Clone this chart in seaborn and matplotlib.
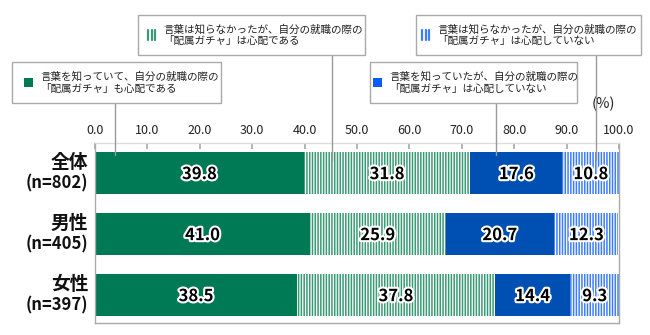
import matplotlib
matplotlib.use("Agg")
import matplotlib.pyplot as plt
import matplotlib.patheffects as pe
from matplotlib.patches import Rectangle
from matplotlib.lines import Line2D
import numpy as np
import pandas as pd
import seaborn as sns

categories = ["全体", "男性", "女性"]
sample_sizes = ["(n=802)", "(n=405)", "(n=397)"]
series_names = [
    "言葉を知っていて、自分の就職の際の\n「配属ガチャ」も心配である",
    "言葉は知らなかったが、自分の就職の際の\n「配属ガチャ」は心配である",
    "言葉を知っていたが、自分の就職の際の\n「配属ガチャ」は心配していない",
    "言葉は知らなかったが、自分の就職の際の\n「配属ガチャ」は心配していない",
]
know_worry = [39.8, 41.0, 38.5]
notknow_worry = [31.8, 25.9, 37.8]
know_noworry = [17.6, 20.7, 14.4]
notknow_noworry = [10.8, 12.3, 9.3]
x_ticks = [0, 10, 20, 30, 40, 50, 60, 70, 80, 90, 100]

sns.set_theme(style="white")
plt.rcParams["font.family"] = ["Noto Sans CJK JP", "DejaVu Sans"]
plt.rcParams["hatch.linewidth"] = 1.1

DARK_GREEN = "#007a55"
LIGHT_GREEN = "#3a9a75"
DARK_BLUE = "#0050b4"
LIGHT_BLUE = "#3f7dff"

series = [know_worry, notknow_worry, know_noworry, notknow_noworry]
facecolors = [DARK_GREEN, "white", DARK_BLUE, "white"]
hatchcolors = [DARK_GREEN, LIGHT_GREEN, DARK_BLUE, LIGHT_BLUE]
hatches = [None, "||||||", None, "||||||"]

cum = np.cumsum(np.array(series), axis=0)

fig = plt.figure(figsize=(6.5, 3.35), dpi=100)
W, H = 650, 335
ax = fig.add_axes([95 / W, (H - 323) / H, (619 - 95) / W, (323 - 143) / H])

# draw from the largest cumulative to the smallest so segments overlay
for i in reversed(range(len(series))):
    df = pd.DataFrame({"cat": categories, "val": cum[i]})
    n_before = len(ax.patches)
    sns.barplot(data=df, x="val", y="cat", orient="h", color=facecolors[i],
                width=0.69, ax=ax, saturation=1)
    for p in ax.patches[n_before:]:
        p.set_facecolor(facecolors[i])
        p.set_edgecolor(hatchcolors[i])
        p.set_linewidth(0)
        if hatches[i]:
            p.set_hatch(hatches[i])

# labels
for i in range(len(series)):
    for j, v in enumerate(series[i]):
        center = cum[i][j] - v / 2
        ax.text(center, j + 0.02, f"{v:.1f}", ha="center", va="center",
                fontsize=12, fontweight="bold", color="black",
                path_effects=[pe.withStroke(linewidth=3, foreground="white")])

ax.set_xlim(0, 100)
ax.set_ylim(2.46, -0.49)
ax.set_xlabel("")
ax.set_ylabel("")
ax.xaxis.tick_top()
ax.set_xticks(x_ticks)
ax.set_xticklabels([f"{t:.1f}" for t in x_ticks], fontsize=9, color="#222222")
ax.tick_params(axis="x", direction="in", top=True, bottom=False, length=4,
               color="#aaaaaa", pad=4)
ax.set_yticks([])
for s in ax.spines.values():
    s.set_color("#aaaaaa")
    s.set_linewidth(1.0)
ax.spines["top"].set_color("#dddddd")

# y category labels
for j, (c, n) in enumerate(zip(categories, sample_sizes)):
    ax.text(-0.013, j - 0.17, c, transform=ax.get_yaxis_transform(), ha="right",
            va="center", fontsize=13.5, fontweight="bold", color="#111111")
    ax.text(-0.013, j + 0.17, n, transform=ax.get_yaxis_transform(), ha="right",
            va="center", fontsize=12, fontweight="bold", color="#111111")

# (%) label
fig.text(603 / W, 1 - 104 / H, "(%)", ha="center", va="center", fontsize=10.5,
         color="#222222")

# legend callout boxes (figure pixel coords)
def fx(x):
    return x / W

def fy(y):
    return 1 - y / H

boxes = [
    # x0, y0, x1, y1, marker, marker color, text x, leader x, leader y end
    (12, 62, 221, 103, "square", DARK_GREEN, 40, 115, 155),
    (138, 15, 365, 55, "stripe", LIGHT_GREEN, 163, 332, 160),
    (370, 62, 577, 103, "square", "#0a5cff", 389, 496, 155),
    (416, 15, 641, 55, "stripe", LIGHT_BLUE, 437, 596, 160),
]
for k, (x0, y0, x1, y1, mk, mc, tx, lx, ly) in enumerate(boxes):
    fig.add_artist(Line2D([fx(lx), fx(lx)], [fy(y1), fy(ly)], color="#999999",
                          lw=1.0, zorder=5))
    fig.add_artist(Rectangle((fx(x0), fy(y1)), fx(x1 - x0), (y1 - y0) / H,
                             facecolor="white", edgecolor="#aaaaaa", lw=1.0,
                             zorder=6))
    cy = (y0 + y1) / 2
    if mk == "square":
        fig.add_artist(Rectangle((fx(tx - 16), fy(cy + 4.5)), fx(9), 9 / H,
                                 facecolor=mc, edgecolor="none", zorder=7))
    else:
        for dx in (0, 3.5, 7):
            fig.add_artist(Line2D([fx(tx - 15 + dx), fx(tx - 15 + dx)],
                                  [fy(cy - 5), fy(cy + 5)], color=mc, lw=1.6,
                                  zorder=7))
    fig.text(fx(tx), fy(cy), series_names[k], ha="left", va="center",
             fontsize=7.6, color="#222222", linespacing=1.2, zorder=8)

fig.savefig("out.png", dpi=100, facecolor="white")
